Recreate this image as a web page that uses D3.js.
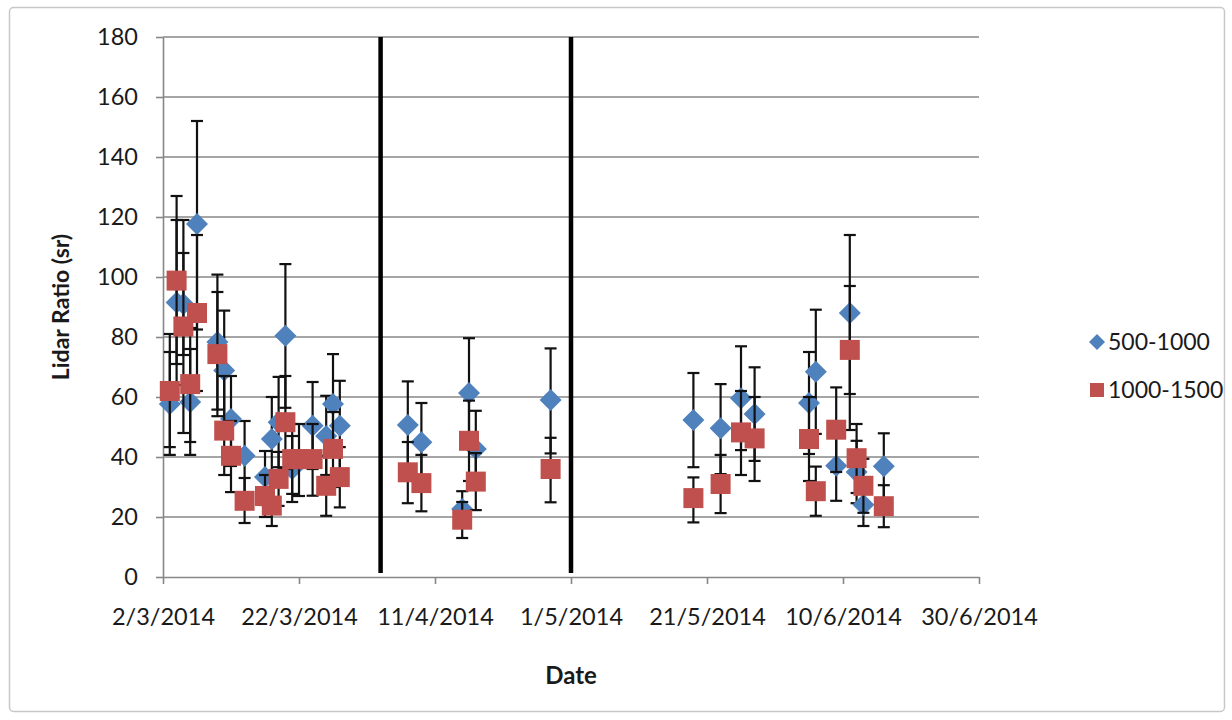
<!DOCTYPE html>
<html>
<head>
<meta charset="utf-8">
<script src="https://cdn.jsdelivr.net/npm/d3@7"></script>
<style>
  html, body { margin: 0; padding: 0; background: #ffffff; }
  svg { display: block; }
</style>
</head>
<body>
<svg id="chart" width="1232" height="720"></svg>
<script>
// ---------------- data ----------------
const dates = ["2014-03-03","2014-03-04","2014-03-05","2014-03-06","2014-03-07","2014-03-10","2014-03-11","2014-03-12","2014-03-14","2014-03-17","2014-03-18","2014-03-19","2014-03-20","2014-03-21","2014-03-22","2014-03-24","2014-03-26","2014-03-27","2014-03-28","2014-04-07","2014-04-09","2014-04-15","2014-04-16","2014-04-17","2014-04-28","2014-05-19","2014-05-23","2014-05-26","2014-05-28","2014-06-05","2014-06-06","2014-06-09","2014-06-11","2014-06-12","2014-06-13","2014-06-16"];
const series1Name = "500-1000";
const series1 = [57.7, 91.5, 91, 58.3, 117.7, 78.3, 68.8, 52.7, 40.4, 33.3, 46, 51.6, 80.4, 36, null, 50.4, 47, 57.7, 50.4, 50.7, 44.9, 22.7, 61.3, 42.7, 59, 52.3, 49.6, 59.6, 54.3, 58, 68.4, 37.1, 88, 35, 24.1, 36.9];
const series1Low = [40.7, 64, 74, 40.7, 82.5, 55.8, 49, 37, 28, 24, 32, 36.6, 56.4, 25, null, 36, 34, 41, 35.4, 36, 32, 16.7, 43, 30, 41.2, 36.6, 34.3, 42.3, 38.7, 41, 47.7, 25.4, 61, 24.6, 17, 25.9];
const series1High = [75, 119, 108, 76, 152, 100.8, 88.8, 67, 52, 42, 60, 66.7, 104.3, 47, null, 65, 60.4, 74.3, 65.4, 65.2, 58, 28.6, 79.6, 55.4, 76.2, 68, 64.3, 76.9, 69.9, 75, 89.1, 48.8, 114, 45.4, 31, 47.9];
const series2Name = "1000-1500";
const series2 = [62, 98.8, 83.5, 64.3, 88, 74.3, 48.8, 40.4, 25.4, 27, 23.8, 32.7, 51.6, 39.3, 39.3, 39.3, 30.4, 42.7, 33.3, 34.9, 31.3, 19.1, 45.4, 31.8, 36, 26.3, 31, 48.2, 46.2, 46, 28.6, 49.1, 75.7, 39.6, 30.4, 23.6];
const series2Low = [43.3, 71, 48, 45, 62, 53.6, 34, 28.3, 18, 20, 17, 23.7, 36, 27.7, 27, 27.1, 20.4, 30, 23.2, 24.6, 21.9, 13, 32, 22.3, 24.9, 18.2, 21.3, 34, 32, 32, 20.4, 35, 49, 28, 21.4, 16.6];
const series2High = [81, 127, 119, 83, 114, 95, 67, 52, 33, 34, 30, 41.7, 67, 51, 51, 51, 40.4, 55, 43.3, 45, 40.7, 25, 58.8, 41.3, 46.4, 33.2, 40.7, 62, 60, 60, 36.8, 63.2, 97, 51, 39.4, 30.6];
const markerLines = ["2014-04-03", "2014-05-01"];
const xTickDates = ["2014-03-02","2014-03-22","2014-04-11","2014-05-01","2014-05-21","2014-06-10","2014-06-30"];
const yTicks = [0, 20, 40, 60, 80, 100, 120, 140, 160, 180];
const xTitle = "Date";
const yTitle = "Lidar Ratio (sr)";

// ---------------- layout ----------------
const parse = s => { const [y,m,d] = s.split("-").map(Number); return new Date(Date.UTC(y, m-1, d)); };
const fmt = d => `${d.getUTCDate()}/${d.getUTCMonth()+1}/${d.getUTCFullYear()}`;
const plot = { left: 163, right: 979, top: 37, bottom: 577 };
const FONT = "Lato, 'Open Sans', sans-serif";
const blue = "#4f81bd", red = "#c0504d", grid = "#878787";

const svg = d3.select("#chart");

// chart border
svg.append("rect").attr("x", 9.5).attr("y", 7.5).attr("width", 1215).attr("height", 704)
  .attr("rx", 4).attr("fill", "#fff").attr("stroke", "#c8c8c8").attr("stroke-width", 1.5);

const x = d3.scaleUtc().domain([parse(xTickDates[0]), parse(xTickDates[xTickDates.length-1])]).range([plot.left, plot.right]);
const y = d3.scaleLinear().domain([0, 180]).range([plot.bottom, plot.top]);

// gridlines
svg.append("g").selectAll("line").data(yTicks.filter(v => v > 0)).join("line")
  .attr("x1", plot.left).attr("x2", plot.right)
  .attr("y1", d => y(d)).attr("y2", d => y(d))
  .attr("stroke", grid).attr("stroke-width", 1.6);

// y axis
const yAxis = svg.append("g").attr("transform", `translate(${plot.left},0)`)
  .call(d3.axisLeft(y).tickValues(yTicks).tickSize(7).tickPadding(18).tickSizeOuter(0));
yAxis.select(".domain").attr("stroke", grid).attr("stroke-width", 1.6);
yAxis.selectAll(".tick line").attr("stroke", grid).attr("stroke-width", 1.6);
yAxis.selectAll(".tick text").attr("font-family", FONT).attr("font-size", 23.5).attr("fill", "#1a1a1a");

// x axis
const xAxis = svg.append("g").attr("transform", `translate(0,${plot.bottom})`)
  .call(d3.axisBottom(x).tickValues(xTickDates.map(parse)).tickFormat(fmt).tickSize(7).tickPadding(24).tickSizeOuter(0));
xAxis.select(".domain").attr("stroke", grid).attr("stroke-width", 1.6);
xAxis.selectAll(".tick line").attr("stroke", grid).attr("stroke-width", 1.6);
xAxis.selectAll(".tick text").attr("font-family", FONT).attr("font-size", 23.5).attr("fill", "#1a1a1a");

// vertical separators
svg.append("g").selectAll("line").data(markerLines).join("line")
  .attr("x1", d => x(parse(d))).attr("x2", d => x(parse(d)))
  .attr("y1", plot.top).attr("y2", plot.bottom - 4)
  .attr("stroke", "#000").attr("stroke-width", 4.5);

function rows(vals, lo, hi) {
  return dates.map((d, i) => ({ date: parse(d), v: vals[i], lo: lo[i], hi: hi[i] })).filter(r => r.v != null);
}
const s1 = rows(series1, series1Low, series1High);
const s2 = rows(series2, series2Low, series2High);

function errorBars(data, color) {
  const g = svg.append("g").attr("stroke", color).attr("stroke-width", 2.2);
  g.selectAll("line.v").data(data).join("line").attr("class", "v")
    .attr("x1", d => x(d.date)).attr("x2", d => x(d.date))
    .attr("y1", d => y(d.lo)).attr("y2", d => y(d.hi));
  g.selectAll("line.t").data(data).join("line").attr("class", "t")
    .attr("x1", d => x(d.date) - 6).attr("x2", d => x(d.date) + 6)
    .attr("y1", d => y(d.hi)).attr("y2", d => y(d.hi));
  g.selectAll("line.b").data(data).join("line").attr("class", "b")
    .attr("x1", d => x(d.date) - 6).attr("x2", d => x(d.date) + 6)
    .attr("y1", d => y(d.lo)).attr("y2", d => y(d.lo));
}

const diamond = "M0,-11L11,0L0,11L-11,0Z";
errorBars(s1, "#111");
svg.append("g").selectAll("path").data(s1).join("path")
  .attr("d", diamond).attr("transform", d => `translate(${x(d.date)},${y(d.v)})`)
  .attr("fill", blue);
errorBars(s2, "#111");
svg.append("g").selectAll("rect").data(s2).join("rect")
  .attr("x", d => x(d.date) - 10).attr("y", d => y(d.v) - 10)
  .attr("width", 20).attr("height", 20).attr("fill", red);

// axis titles
svg.append("text").attr("x", 571).attr("y", 684).attr("text-anchor", "middle")
  .attr("font-family", FONT).attr("font-weight", "bold").attr("font-size", 24).attr("fill", "#1a1a1a").text(xTitle);
svg.append("text").attr("transform", `translate(69,${(plot.top + plot.bottom)/2}) rotate(-90)`)
  .attr("text-anchor", "middle")
  .attr("font-family", FONT).attr("font-weight", "bold").attr("font-size", 23).attr("fill", "#1a1a1a").text(yTitle);

// legend
const legend = svg.append("g");
legend.append("path").attr("d", "M0,-8L8,0L0,8L-8,0Z").attr("transform", "translate(1097,342)").attr("fill", blue);
legend.append("text").attr("x", 1108).attr("y", 342).attr("dy", "0.36em")
  .attr("font-family", FONT).attr("font-size", 23).attr("fill", "#1a1a1a").text(series1Name);
legend.append("rect").attr("x", 1090).attr("y", 383).attr("width", 14).attr("height", 14).attr("fill", red);
legend.append("text").attr("x", 1108).attr("y", 390).attr("dy", "0.36em")
  .attr("font-family", FONT).attr("font-size", 23).attr("fill", "#1a1a1a").text(series2Name);
</script>
</body>
</html>
